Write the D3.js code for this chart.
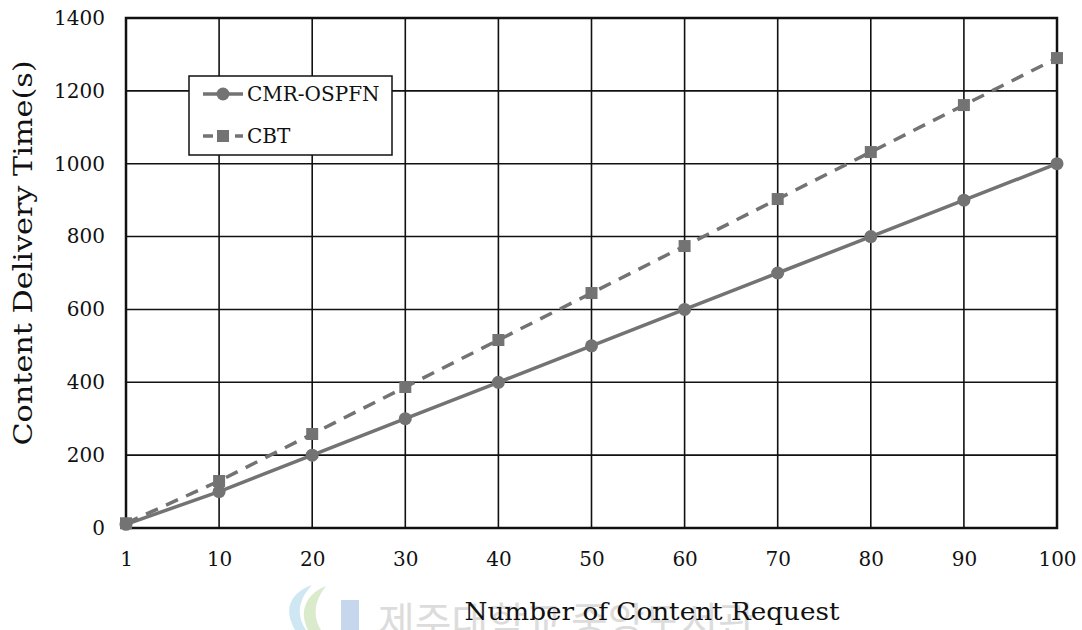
<!DOCTYPE html>
<html><head><meta charset="utf-8">
<script src="https://cdn.jsdelivr.net/npm/d3@7"></script>
<style>body{margin:0;background:#fff}svg{display:block}</style>
</head><body>
<svg id="c" width="1082" height="630"></svg>
<script>
const categories = ["1","10","20","30","40","50","60","70","80","90","100"];
const cmrOspfn = [10,100,200,300,400,500,600,700,800,900,1000];
const cbt = [13,129,258,387,516,645,774,903,1032,1161,1290];
const yTicks = [0,200,400,600,800,1000,1200,1400];
const seriesNames = ["CMR-OSPFN","CBT"];

const svg = d3.select("#c");
const L=126, R=1057, T=18, B=528;
const x = d3.scalePoint().domain(categories).range([L,R]);
const y = d3.scaleLinear().domain([0,1400]).range([B,T]);
const font = "'DejaVu Serif', 'Liberation Serif', serif";
const grey = "#737373";

// watermark
const wm = svg.append("g").attr("opacity",0.5);
wm.append("rect").attr("x",341).attr("y",600).attr("width",18).attr("height",30).attr("fill","#8fb0dd");
wm.append("path").attr("d","M295,630 C282,608 292,592 312,585 C298,600 296,615 306,630 Z").attr("fill","#9fd0e6");
wm.append("path").attr("d","M308,630 C297,608 310,592 326,586 C315,600 312,615 321,630 Z").attr("fill","#b6d99b");
wm.append("text").attr("x",378).attr("y",636).attr("font-family","'Noto Sans CJK KR', sans-serif")
  .attr("font-size",40).attr("fill","#bbb").text("제주대학교 중앙도서관");

// grid
const g = svg.append("g");
g.selectAll(".hg").data(yTicks).join("line")
  .attr("x1",L).attr("x2",R).attr("y1",d=>y(d)).attr("y2",d=>y(d))
  .attr("stroke","#111").attr("stroke-width",1.6);
g.selectAll(".vg").data(categories).join("line")
  .attr("x1",d=>x(d)).attr("x2",d=>x(d)).attr("y1",T).attr("y2",B)
  .attr("stroke","#111").attr("stroke-width",1.6);
g.append("rect").attr("x",L).attr("y",T).attr("width",R-L).attr("height",B-T)
  .attr("fill","none").attr("stroke","#111").attr("stroke-width",2.5);

// axes labels
const yAxis = d3.axisLeft(y).tickValues(yTicks).tickFormat(d3.format("d")).tickSize(0).tickPadding(21);
const ya = svg.append("g").attr("transform",`translate(${L},0)`).call(yAxis);
ya.select(".domain").remove();
ya.selectAll("text").attr("font-family",font).attr("font-size",20).attr("fill","#111");
const xAxis = d3.axisBottom(x).tickSize(0).tickPadding(24);
const xa = svg.append("g").attr("transform",`translate(0,${B})`).call(xAxis);
xa.select(".domain").remove();
xa.selectAll("text").attr("font-family",font).attr("font-size",20).attr("fill","#111");

svg.append("text").attr("x",652).attr("y",620).attr("text-anchor","middle")
  .attr("font-family",font).attr("font-size",25).attr("fill","#111")
  .attr("textLength",375).attr("lengthAdjust","spacingAndGlyphs").text("Number of Content Request");
svg.append("text").attr("transform","translate(32,253) rotate(-90)").attr("text-anchor","middle")
  .attr("font-family",font).attr("font-size",26).attr("fill","#111")
  .attr("textLength",385).attr("lengthAdjust","spacingAndGlyphs").text("Content Delivery Time(s)");

// series
const line = d3.line().x((d,i)=>x(categories[i])).y(d=>y(d));
svg.append("path").datum(cbt).attr("d",line).attr("fill","none").attr("stroke",grey)
  .attr("stroke-width",3.5).attr("stroke-dasharray","13,9");
svg.append("path").datum(cmrOspfn).attr("d",line).attr("fill","none").attr("stroke",grey)
  .attr("stroke-width",3.5);
svg.selectAll(".sq").data(cbt).join("rect")
  .attr("x",(d,i)=>x(categories[i])-6).attr("y",d=>y(d)-6).attr("width",12).attr("height",12).attr("fill",grey);
svg.selectAll(".ci").data(cmrOspfn).join("circle")
  .attr("cx",(d,i)=>x(categories[i])).attr("cy",d=>y(d)).attr("r",6.5).attr("fill",grey);

// legend
const lg = svg.append("g");
lg.append("rect").attr("x",189).attr("y",76).attr("width",203).attr("height",79)
  .attr("fill","#fff").attr("stroke","#111").attr("stroke-width",1.5);
const items = [{name:seriesNames[0],y:94,dash:null,shape:"c"},{name:seriesNames[1],y:136,dash:"10,6",shape:"s"}];
items.forEach(it=>{
  lg.append("line").attr("x1",203).attr("x2",243).attr("y1",it.y).attr("y2",it.y)
    .attr("stroke",grey).attr("stroke-width",3.5).attr("stroke-dasharray",it.dash);
  if(it.shape==="c") lg.append("circle").attr("cx",223).attr("cy",it.y).attr("r",6.5).attr("fill",grey);
  else lg.append("rect").attr("x",217).attr("y",it.y-6).attr("width",12).attr("height",12).attr("fill",grey);
  lg.append("text").attr("x",247).attr("y",it.y+7).attr("font-family",font).attr("font-size",20)
    .attr("fill","#111").text(it.name);
});
</script>
</body></html>
